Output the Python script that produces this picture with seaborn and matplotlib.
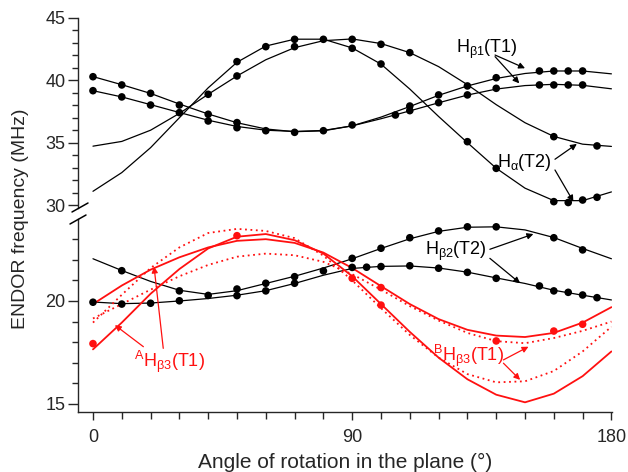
# ENDOR angular dependence chart (broken y axis), rebuilt with seaborn

# --- imports --- #
import matplotlib.pyplot as plt
import seaborn as sns
from matplotlib.ticker import MultipleLocator
from matplotlib.lines import Line2D

# --- data (MHz) --- #
angles = list(range(0, 181, 10))

# upper panel: fitted curves
hb1_a = [40.3, 39.65, 38.95, 38.1, 37.3, 36.6, 36.1, 35.88, 35.95, 36.35,
         37.05, 37.9, 38.8, 39.55, 40.15, 40.55, 40.75, 40.75, 40.52]
hb1_b = [39.17, 38.67, 38.05, 37.42, 36.8, 36.3, 36.0, 35.9, 35.98, 36.35,
         36.92, 37.55, 38.2, 38.82, 39.3, 39.58, 39.68, 39.6, 39.32]
ha_a = [34.72, 35.1, 36.0, 37.35, 38.88, 40.35, 41.65, 42.62, 43.18, 43.32,
        42.95, 42.22, 41.1, 39.65, 38.05, 36.6, 35.5, 34.88, 34.7]
ha_b = [31.1, 32.6, 34.6, 37.0, 39.4, 41.45, 42.75, 43.3, 43.3, 42.6,
        41.3, 39.3, 37.1, 35.0, 32.95, 31.35, 30.35, 30.35, 31.05]

# upper panel: measured points
hb1_a_ang = [0, 10, 20, 30, 40, 50, 110, 120, 130, 140, 155, 160, 165, 170]
hb1_a_pts = [40.29, 39.63, 38.96, 38.02, 37.28, 36.61, 37.94, 38.83, 39.55,
             40.21, 40.75, 40.75, 40.75, 40.75]
hb1_b_ang = [0, 10, 20, 30, 40, 50, 60, 70, 80, 90, 105, 110, 120, 130, 140,
             155, 160, 165, 170]
hb1_b_pts = [39.17, 38.67, 38.02, 37.41, 36.74, 36.2, 35.96, 35.83, 35.96,
             36.42, 37.22, 37.57, 38.21, 38.83, 39.36, 39.63, 39.63, 39.63, 39.63]
ha_a_ang = [40, 50, 70, 80, 90, 100, 110, 160, 175]
ha_a_pts = [38.88, 40.35, 42.7, 43.29, 43.29, 42.89, 42.22, 35.48, 34.74]
ha_b_ang = [50, 60, 70, 90, 100, 130, 140, 160, 165, 170, 175]
ha_b_pts = [41.5, 42.7, 43.29, 42.57, 41.31, 35.08, 32.94, 30.27, 30.2, 30.4, 30.62]

# lower panel: fitted curves
hb2_a = [22.05, 21.48, 20.95, 20.52, 20.32, 20.5, 20.85, 21.2, 21.6, 22.05,
         22.55, 23.02, 23.38, 23.58, 23.6, 23.45, 23.08, 22.55, 22.05]
hb2_b = [19.95, 19.87, 19.9, 20.0, 20.12, 20.28, 20.5, 20.85, 21.25, 21.58,
         21.68, 21.7, 21.6, 21.4, 21.12, 20.85, 20.52, 20.28, 20.05]
hb3_fit_a = [17.65, 18.95, 20.35, 21.55, 22.55, 23.12, 23.25, 22.95, 22.3, 21.2,
             19.85, 18.5, 17.25, 16.2, 15.45, 15.08, 15.5, 16.35, 17.55]
hb3_fit_b = [19.85, 20.75, 21.52, 22.12, 22.6, 22.92, 23.0, 22.82, 22.35, 21.6,
             20.72, 19.85, 19.12, 18.6, 18.32, 18.25, 18.45, 18.95, 19.7]
hb3_dot_a = [18.95, 20.3, 21.6, 22.6, 23.3, 23.5, 23.4, 23.05, 22.2, 21.0,
             19.65, 18.35, 17.25, 16.45, 16.05, 16.1, 16.6, 17.55, 18.75]
hb3_dot_b = [19.15, 19.85, 20.55, 21.2, 21.75, 22.15, 22.3, 22.22, 21.9, 21.3,
             20.55, 19.75, 19.05, 18.45, 18.05, 17.95, 18.2, 18.55, 19.0]

# lower panel: measured points
hb2_a_ang = [10, 30, 40, 50, 60, 70, 80, 90, 100, 110, 120, 130, 140, 160, 170]
hb2_a_pts = [21.47, 20.49, 20.27, 20.58, 20.86, 21.18, 21.46, 22.07, 22.56,
             23.07, 23.4, 23.6, 23.6, 23.07, 22.48]
hb2_b_ang = [0, 10, 20, 30, 50, 60, 70, 90, 95, 100, 110, 120, 130, 140, 155,
             160, 165, 170, 175]
hb2_b_pts = [19.94, 19.85, 19.89, 20.01, 20.26, 20.49, 20.86, 21.63, 21.64,
             21.67, 21.71, 21.59, 21.39, 21.1, 20.73, 20.49, 20.42, 20.29, 20.16]
hb3_ang = [0, 50, 90, 100, 100, 140, 160, 170]
hb3_pts = [17.93, 23.17, 21.1, 20.65, 19.8, 18.06, 18.54, 18.87]

RED = '#ff1010'

# --- style --- #
sns.set_style("ticks")
plt.rcParams['font.family'] = ['Liberation Sans', 'DejaVu Sans']
plt.rcParams['mathtext.fontset'] = 'custom'
plt.rcParams['mathtext.rm'] = 'Liberation Sans'
plt.rcParams['mathtext.it'] = 'Liberation Sans:italic'
plt.rcParams['mathtext.bf'] = 'Liberation Sans:bold'

W, H = 628, 472
fig = plt.figure(figsize=(W / 100, H / 100), dpi=100)


def box(x0, y0, x1, y1):
	# pixel box -> figure fraction
	return [x0 / W, 1 - y1 / H, (x1 - x0) / W, (y1 - y0) / H]


ax_top = fig.add_axes(box(78, 18, 612, 208))
ax_bot = fig.add_axes(box(78, 219, 612, 412))


def curve(ax, y, color='black', ls='-', lw=0.9):
	sns.lineplot(x=angles, y=y, ax=ax, color=color, linestyle=ls, lw=lw,
	             sort=False, legend=False)


def dots(ax, x, y, color='black'):
	sns.scatterplot(x=x, y=y, ax=ax, color=color, s=30, edgecolor='none',
	                zorder=3, legend=False)


# - upper panel - #
for y in (hb1_a, hb1_b, ha_a, ha_b):
	curve(ax_top, y)
for x, y in ((hb1_a_ang, hb1_a_pts), (hb1_b_ang, hb1_b_pts),
             (ha_a_ang, ha_a_pts), (ha_b_ang, ha_b_pts)):
	dots(ax_top, x, y)

# - lower panel - #
curve(ax_bot, hb2_a)
curve(ax_bot, hb2_b)
curve(ax_bot, hb3_fit_a, RED, '-', 1.3)
curve(ax_bot, hb3_fit_b, RED, '-', 1.3)
curve(ax_bot, hb3_dot_a, RED, (0, (1, 2)), 1.3)
curve(ax_bot, hb3_dot_b, RED, (0, (1, 2)), 1.3)
dots(ax_bot, hb2_a_ang, hb2_a_pts)
dots(ax_bot, hb2_b_ang, hb2_b_pts)
dots(ax_bot, hb3_ang, hb3_pts, RED)

# - axes - #
for ax in (ax_top, ax_bot):
	ax.set_xlim(-5.2, 180.2)
	ax.set_xlabel('')
	ax.set_ylabel('')
	ax.yaxis.set_major_locator(MultipleLocator(5))
	ax.yaxis.set_minor_locator(MultipleLocator(1))
	ax.tick_params(axis='y', which='major', length=7, width=1, labelsize=13, pad=2)
	ax.tick_params(axis='y', which='minor', length=4, width=1)
	ax.spines['top'].set_visible(False)
	ax.spines['right'].set_visible(False)
	ax.spines['left'].set_linewidth(1)
	ax.spines['bottom'].set_linewidth(1)
	ax.patch.set_alpha(0)

ax_top.set_ylim(29.76, 45)
ax_bot.set_ylim(14.61, 23.98)
ax_top.spines['bottom'].set_visible(False)
ax_top.tick_params(axis='x', which='both', bottom=False, labelbottom=False)

ax_bot.xaxis.set_major_locator(MultipleLocator(90))
ax_bot.xaxis.set_minor_locator(MultipleLocator(10))
ax_bot.tick_params(axis='x', which='major', length=6, width=1, labelsize=13, pad=6)
ax_bot.tick_params(axis='x', which='minor', length=5, width=1)
ax_bot.set_xlabel('Angle of rotation in the plane (°)', fontsize=15, labelpad=5)
fig.text(21 / W, 1 - 219 / H, 'ENDOR frequency (MHz)', rotation=90,
         ha='center', va='center', fontsize=14)

# - axis break marks - #
for (x0, y0), (x1, y1) in (((72, 212), (88, 203)), ((70, 224), (86, 215))):
	fig.add_artist(Line2D([x0 / W, x1 / W], [1 - y0 / H, 1 - y1 / H],
	                      transform=fig.transFigure, color='black', lw=1.1))


# - annotations - #
def label(ax, text, xy, color, arrows):
	ax.text(xy[0], xy[1], text, ha='center', va='center', fontsize=13, color=color)
	for start, end in arrows:
		ax.annotate('', xy=end, xytext=start,
		            arrowprops=dict(arrowstyle='-|>', color=color, lw=0.9,
		                            mutation_scale=9, shrinkA=0, shrinkB=0))


label(ax_top, r'H$_{\mathrm{β1}}$(T1)', (136.6, 42.5), 'black',
      [((139.6, 42.03), (150, 40.97)), ((139.6, 41.9), (148, 39.76))])
label(ax_top, r'H$_{\mathrm{α}}$(T2)', (149.7, 33.37), 'black',
      [((160.4, 33.67), (168, 34.9)), ((160.4, 32.81), (166.8, 30.27))])
label(ax_bot, r'H$_{\mathrm{β2}}$(T2)', (126, 22.43), 'black',
      [((137.8, 22.51), (152.9, 23.25)), ((137.8, 22.07), (148.3, 20.86))])
label(ax_bot, r'$^{\mathrm{A}}$H$_{\mathrm{β3}}$(T1)', (26.4, 17.04), RED,
      [((17.5, 17.78), (7.6, 18.83)), ((24.4, 17.7), (21.2, 21.67))])
label(ax_bot, r'$^{\mathrm{B}}$H$_{\mathrm{β3}}$(T1)', (130.2, 17.33), RED,
      [((142.5, 17.14), (151.2, 17.78)), ((142.5, 16.98), (148.3, 16.17))])

fig.savefig('out.png', dpi=100)
plt.close()
